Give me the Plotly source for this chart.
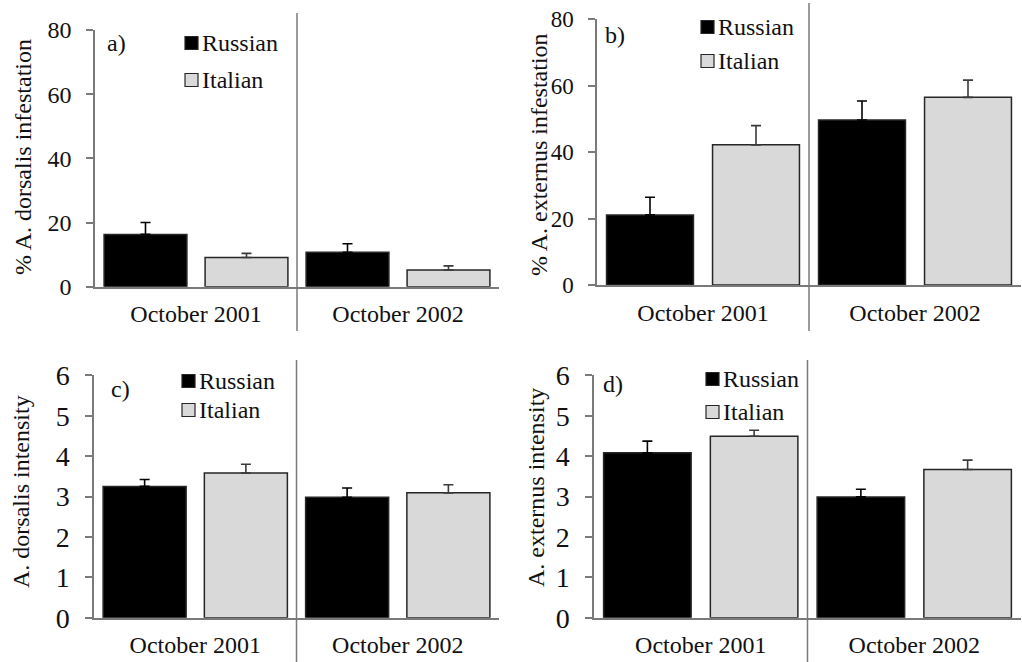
import plotly.graph_objects as go

W, H = 1022, 662

# ---- data -------------------------------------------------------------
months = ["October 2001", "October 2002"]
groups = ["Russian", "Italian"]

dorsalis_infest_russian = [16.3, 10.7]
dorsalis_infest_russian_se = [3.7, 2.7]
dorsalis_infest_italian = [9.1, 5.2]
dorsalis_infest_italian_se = [1.3, 1.3]

externus_infest_russian = [21.1, 49.7]
externus_infest_russian_se = [5.3, 5.7]
externus_infest_italian = [42.2, 56.5]
externus_infest_italian_se = [5.8, 5.2]

dorsalis_intens_russian = [3.25, 2.98]
dorsalis_intens_russian_se = [0.17, 0.23]
dorsalis_intens_italian = [3.58, 3.09]
dorsalis_intens_italian_se = [0.22, 0.20]

externus_intens_russian = [4.08, 2.99]
externus_intens_russian_se = [0.29, 0.19]
externus_intens_italian = [4.49, 3.67]
externus_intens_italian_se = [0.15, 0.23]

panel_letters = ["a)", "b)", "c)", "d)"]
y_titles = [
    "% A. dorsalis infestation",
    "% A. externus infestation",
    "A. dorsalis intensity",
    "A. externus intensity",
]

# ---- styling ----------------------------------------------------------
FONT = "Liberation Serif"
BLACK = "#000000"
GREY = "#d9d9d9"
EDGE = "#262626"
AXIS = "#7a7a7a"


def px_x(p):
    return p / W


def px_y(p):
    return 1 - p / H


# pixel geometry of each panel: x-left, x-right, y of zero, y of top tick
panels = [
    dict(x0=95, x1=499, ybot=286.7, ytop=30.0, ymax=80, dtick=20, tick_size=24,
         sep=(13, 331), leg_x=185, leg_y=(43, 80), lab=(105, 43), title=(23, 157)),
    dict(x0=597, x1=1021, ybot=285.0, ytop=19.3, ymax=80, dtick=20, tick_size=23,
         sep=(3, 331), leg_x=701, leg_y=(27, 61), lab=(603, 35), title=(539, 155)),
    dict(x0=94, x1=499, ybot=617.7, ytop=375.3, ymax=6, dtick=1, tick_size=28,
         sep=(360, 662), leg_x=182, leg_y=(381, 410), lab=(109, 389), title=(21, 492)),
    dict(x0=594, x1=1021, ybot=617.7, ytop=375.3, ymax=6, dtick=1, tick_size=28,
         sep=(360, 662), leg_x=706, leg_y=(379, 412), lab=(601, 384), title=(536, 488)),
]

series = [
    (dorsalis_infest_russian, dorsalis_infest_russian_se, dorsalis_infest_italian, dorsalis_infest_italian_se),
    (externus_infest_russian, externus_infest_russian_se, externus_infest_italian, externus_infest_italian_se),
    (dorsalis_intens_russian, dorsalis_intens_russian_se, dorsalis_intens_italian, dorsalis_intens_italian_se),
    (externus_intens_russian, externus_intens_russian_se, externus_intens_italian, externus_intens_italian_se),
]

fig = go.Figure()
shapes, annotations = [], []

for i, (pan, (ru, ru_se, it, it_se)) in enumerate(zip(panels, series)):
    n = "" if i == 0 else str(i + 1)
    xa, ya = "x" + n, "y" + n

    for name, vals, se, fill, ecol in [
        (groups[0], ru, ru_se, BLACK, BLACK),
        (groups[1], it, it_se, GREY, "#3a3a3a"),
    ]:
        fig.add_trace(go.Bar(
            x=months, y=vals, name=name, xaxis=xa, yaxis=ya,
            marker=dict(color=fill, line=dict(color=EDGE, width=1.5)),
            error_y=dict(type="data", symmetric=False, array=se,
                         arrayminus=[0] * len(se), width=5, thickness=1.6,
                         color=ecol),
            showlegend=False,
        ))

    fig.layout["xaxis" + n] = dict(
        domain=[px_x(pan["x0"]), px_x(pan["x1"])], anchor=ya, automargin=False,
        showline=True, linecolor=AXIS, linewidth=1.5, ticks="",
        tickfont=dict(family=FONT, size=24, color="#111"),
        ticklabelstandoff=5, showgrid=False, zeroline=False, fixedrange=True,
    )
    fig.layout["yaxis" + n] = dict(
        domain=[px_y(pan["ybot"]), px_y(pan["ytop"])], anchor=xa, automargin=False,
        range=[0, pan["ymax"]], dtick=pan["dtick"], tick0=0,
        showline=True, linecolor=AXIS, linewidth=1.5,
        ticks="outside", ticklen=7, tickwidth=1.5, tickcolor=AXIS,
        tickfont=dict(family=FONT, size=pan["tick_size"], color="#111"),
        ticklabelstandoff=10, showgrid=False, zeroline=False, fixedrange=True,
    )

    # divider between the two sampling dates
    shapes.append(dict(type="line", xref=xa + " domain", x0=0.5, x1=0.5,
                       yref="paper", y0=px_y(pan["sep"][1]), y1=px_y(pan["sep"][0]),
                       line=dict(color=AXIS, width=1.5)))

    # legend keys
    for g, fill, cy in zip(groups, [BLACK, GREY], pan["leg_y"]):
        lx = pan["leg_x"]
        shapes.append(dict(type="rect", xref="paper", yref="paper",
                           x0=px_x(lx), x1=px_x(lx + 13),
                           y0=px_y(cy + 6.5), y1=px_y(cy - 6.5),
                           fillcolor=fill, line=dict(color=EDGE, width=1.2)))
        annotations.append(dict(text=g, xref="paper", yref="paper",
                                x=px_x(lx + 15), y=px_y(cy), xanchor="left",
                                yanchor="middle", showarrow=False,
                                font=dict(family=FONT, size=24, color="#111")))

    # panel letter
    annotations.append(dict(text=panel_letters[i], xref="paper", yref="paper",
                            x=px_x(pan["lab"][0]), y=px_y(pan["lab"][1]),
                            xanchor="left", yanchor="middle", showarrow=False,
                            font=dict(family=FONT, size=24, color="#111")))

    # y-axis title
    annotations.append(dict(text=y_titles[i], xref="paper", yref="paper",
                            x=px_x(pan["title"][0]), y=px_y(pan["title"][1]),
                            xanchor="center", yanchor="middle", textangle=-90,
                            showarrow=False,
                            font=dict(family=FONT, size=24, color="#111")))

fig.update_layout(
    width=W, height=H, margin=dict(l=0, r=0, t=0, b=0, autoexpand=False),
    paper_bgcolor="white", plot_bgcolor="white",
    barmode="group", bargap=0.0, bargroupgap=0.18,
    shapes=shapes, annotations=annotations,
    font=dict(family=FONT, color="#111"),
)

fig.write_html("out.html")
